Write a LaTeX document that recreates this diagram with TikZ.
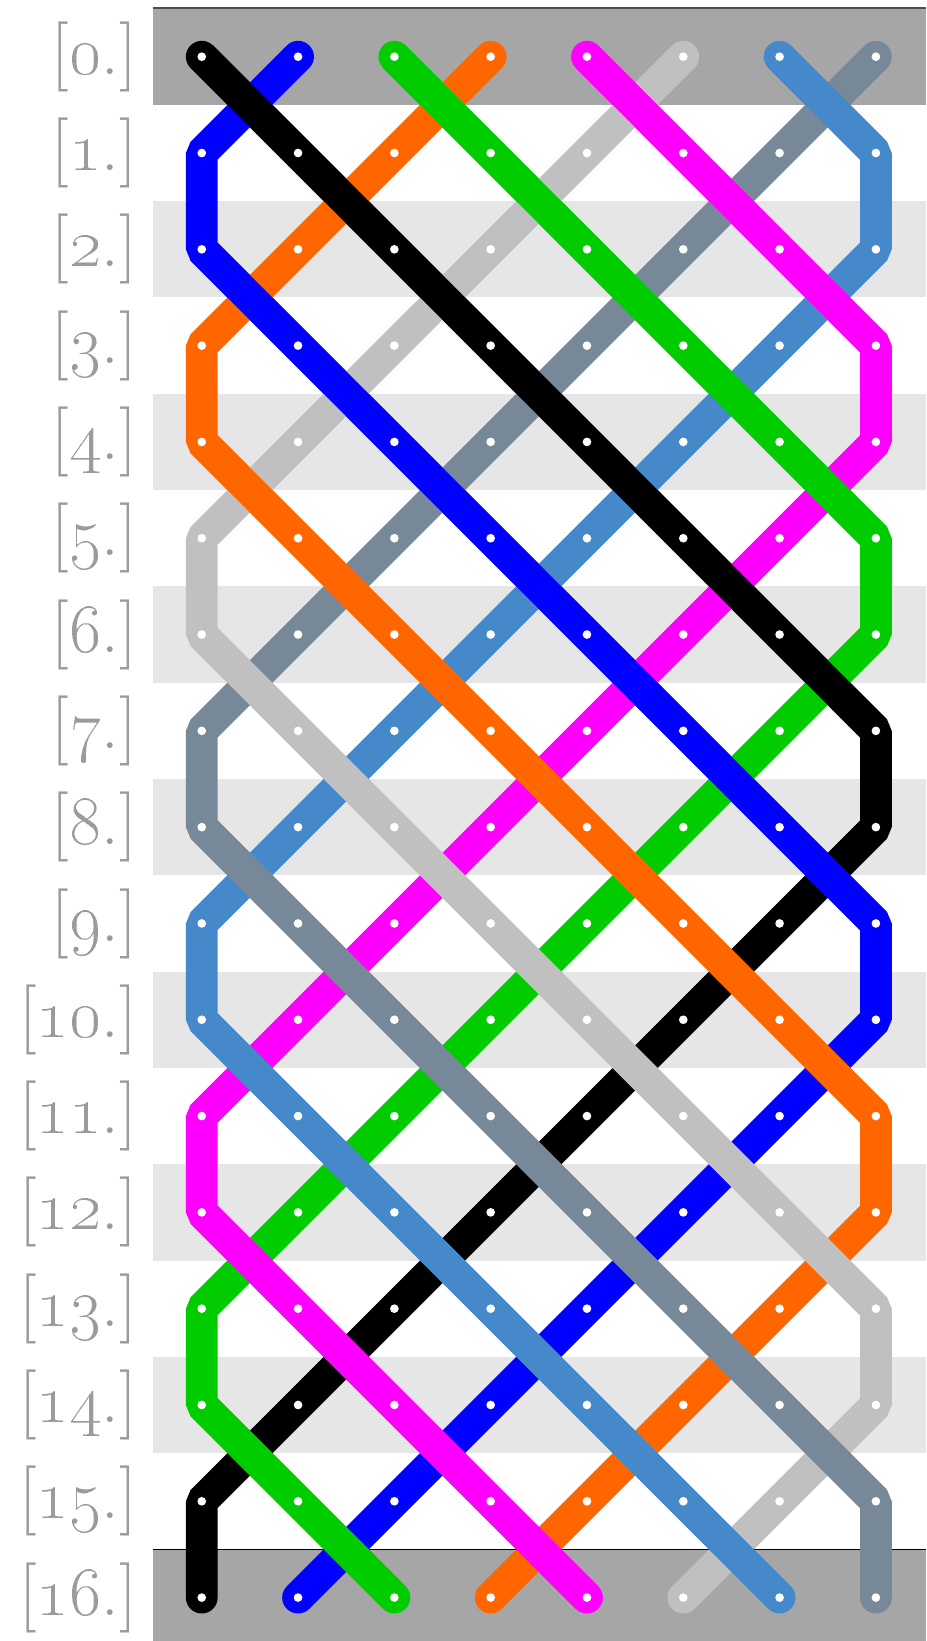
\documentclass[tikz,border=0pt]{standalone}
\usepackage{tikz}
\definecolor{bell1}{RGB}{0,0,0}
\definecolor{bell2}{RGB}{0,0,255}
\definecolor{bell3}{RGB}{0,204,0}
\definecolor{bell4}{RGB}{255,102,0}
\definecolor{bell5}{RGB}{255,0,255}
\definecolor{bell6}{RGB}{192,192,192}
\definecolor{bell7}{RGB}{70,137,202}
\definecolor{bell8}{RGB}{119,136,153}
\definecolor{HuntBand}{RGB}{166,166,166}
\definecolor{HuntStripe}{RGB}{230,230,230}
\definecolor{HuntLabel}{RGB}{155,155,155}

\begin{document}
\begin{tikzpicture}[
    x=1cm,y=-1cm,
    rope/.style={line width=0.33cm,line cap=round,line join=bevel},
    ropetop/.style={line width=0.33cm,line cap=butt},
    rowlabel/.style={anchor=east,inner sep=0pt,text=HuntLabel,font=\fontsize{20.74}{24}\selectfont}
  ]
    \useasboundingbox (0,0) rectangle (9.616,17.04);
    \fill[HuntBand] (1.592,0.089) rectangle (9.616,1.089);
    \foreach \r in {2,4,...,14}
      \fill[HuntStripe] (1.592,\r+0.089) rectangle (9.616,\r+1.089);
    \fill[HuntBand] (1.592,16.089) rectangle (9.616,17.04);
    \draw[line width=0.6pt,draw=black!70] (1.592,0.086) -- (9.616,0.086);
    \draw[line width=0.5pt] (1.592,16.089) -- (9.616,16.089);

    \foreach \r in {0,...,16}{
      \node[rowlabel] (lbl-\r) at (1.43,\r+0.589) {[\oldstylenums{\r}.]};
      \foreach \p in {1,...,8}
        \coordinate (c-\r-\p) at (\p+1.095,\r+0.589);
    }

    \foreach \b/\seq in {
        1/{2,3,4,5,6,7,8,8,7,6,5,4,3,2,1,1},
        2/{1,1,2,3,4,5,6,7,8,8,7,6,5,4,3,2},
        3/{4,5,6,7,8,8,7,6,5,4,3,2,1,1,2,3},
        4/{3,2,1,1,2,3,4,5,6,7,8,8,7,6,5,4},
        5/{6,7,8,8,7,6,5,4,3,2,1,1,2,3,4,5},
        6/{5,4,3,2,1,1,2,3,4,5,6,7,8,8,7,6},
        7/{8,8,7,6,5,4,3,2,1,1,2,3,4,5,6,7},
        8/{7,6,5,4,3,2,1,1,2,3,4,5,6,7,8,8}}
      \draw[rope,draw=bell\b] (c-0-\b) \foreach \p [count=\r] in \seq {-- (c-\r-\p)};

    \foreach \b/\ra/\pa/\rb/\pb in {1/0/1/7/8,2/2/1/9/8,3/0/3/5/8,3/14/1/16/3,
        4/4/1/11/8,5/0/5/3/8,5/12/1/16/5,6/6/1/13/8,7/0/7/1/8,7/10/1/16/7,8/8/1/15/8}
      \draw[ropetop,draw=bell\b] (c-\ra-\pa) -- (c-\rb-\pb);

    \foreach \r in {0,...,16}
      \foreach \p in {1,...,8}
        \fill[white] (c-\r-\p) circle (0.045);
\end{tikzpicture}
\end{document}
